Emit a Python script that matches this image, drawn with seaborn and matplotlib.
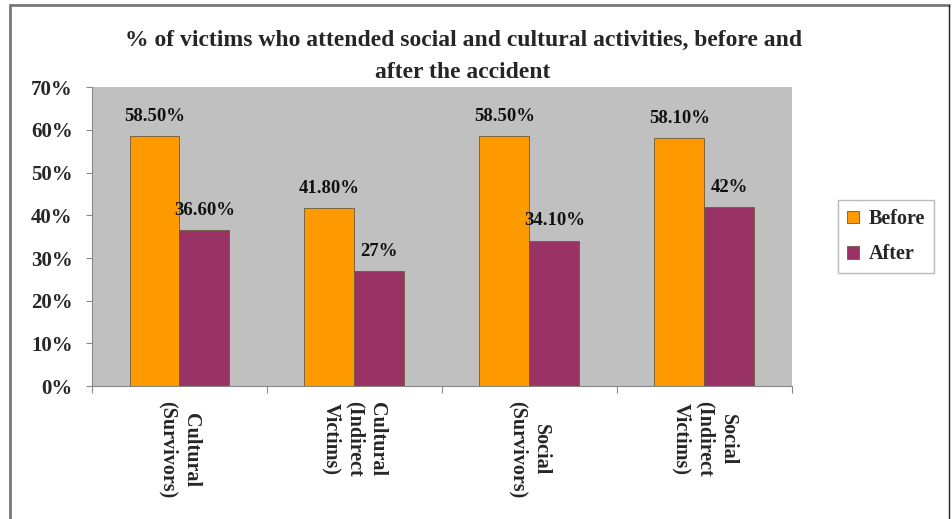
import pandas as pd
import matplotlib
matplotlib.use("Agg")
import matplotlib.pyplot as plt
import seaborn as sns

# data
categories = ["Cultural\n(Survivors)", "Cultural\n(Indirect\nVictims)",
              "Social\n(Survivors)", "Social\n(Indirect\nVictims)"]
before = [58.5, 41.8, 58.5, 58.1]
after = [36.6, 27.0, 34.1, 42.0]
before_labels = ["58.50%", "41.80%", "58.50%", "58.10%"]
after_labels = ["36.60%", "27%", "34.10%", "42%"]
series = ["Before", "After"]

df = pd.DataFrame({
    "category": categories * 2,
    "value": before + after,
    "series": [series[0]] * 4 + [series[1]] * 4,
})

sns.set_theme(style="white")
plt.rcParams["font.family"] = ["Liberation Serif", "DejaVu Serif"]
plt.rcParams["font.weight"] = "bold"

fig = plt.figure(figsize=(9.53, 5.19), dpi=100)
ax = fig.add_axes([0.0965, 0.256, 0.7345, 0.576])
ax.set_facecolor("#C0C0C0")

palette = {"Before": "#FF9900", "After": "#993366"}
sns.barplot(data=df, x="category", y="value", hue="series", palette=palette,
            width=0.571, edgecolor="#6b5a3a", linewidth=0.6, saturation=1,
            ax=ax)

# data labels
for container, labels in zip(ax.containers, [before_labels, after_labels]):
    ax.bar_label(container, labels=labels, padding=8, fontsize=13.5,
                 fontweight="bold", color="#111111")

ax.set_xlim(-0.5, 3.5)
ax.set_ylim(0, 70)
ax.set_yticks(range(0, 71, 10))
ax.set_yticklabels([f"{v}%" for v in range(0, 71, 10)], fontsize=15,
                   fontweight="bold")
ax.set_xticks([0, 1, 2, 3])
ax.set_xticklabels(categories, rotation=270, fontsize=14.5, fontweight="bold",
                   va="top", ha="center", multialignment="center")
ax.tick_params(axis="x", length=0, pad=11)
ax.tick_params(axis="y", length=4, width=0.8, color="#888888", pad=10,
               left=True)
# minor ticks at group boundaries on x
ax.set_xticks([-0.5, 0.5, 1.5, 2.5, 3.5], minor=True)
ax.tick_params(axis="x", which="minor", length=5, width=0.8,
               color="#888888", bottom=True)
ax.set_xlabel("")
ax.set_ylabel("")

for side in ["left", "bottom"]:
    ax.spines[side].set_color("#888888")
    ax.spines[side].set_linewidth(0.8)
ax.spines["top"].set_visible(False)
ax.spines["right"].set_visible(False)

leg = ax.legend(loc="center left", bbox_to_anchor=(1.066, 0.50),
                frameon=True, fancybox=False, fontsize=14.5, handlelength=0.6,
                handleheight=0.6, handletextpad=0.45, labelspacing=0.75,
                borderpad=0.45, borderaxespad=0)
leg.get_frame().set_edgecolor("#aaaaaa")
leg.get_frame().set_linewidth(1.0)
for t in leg.get_texts():
    t.set_fontweight("bold")

fig.text(0.486, 0.922, "% of victims who attended social and cultural activities, before and",
         ha="center", va="center", fontsize=17, fontweight="bold")
fig.text(0.486, 0.86, "after the accident",
         ha="center", va="center", fontsize=17, fontweight="bold")

# figure frame lines
fig.add_artist(plt.Line2D([0.0105, 0.0105], [0, 0.99], color="#777777",
                          linewidth=2, transform=fig.transFigure))
fig.add_artist(plt.Line2D([0.0105, 0.996], [0.99, 0.99], color="#777777",
                          linewidth=2, transform=fig.transFigure))
fig.add_artist(plt.Line2D([0.996, 0.996], [0, 0.99], color="#222222",
                          linewidth=1, transform=fig.transFigure))

fig.savefig("out.png", dpi=100)
